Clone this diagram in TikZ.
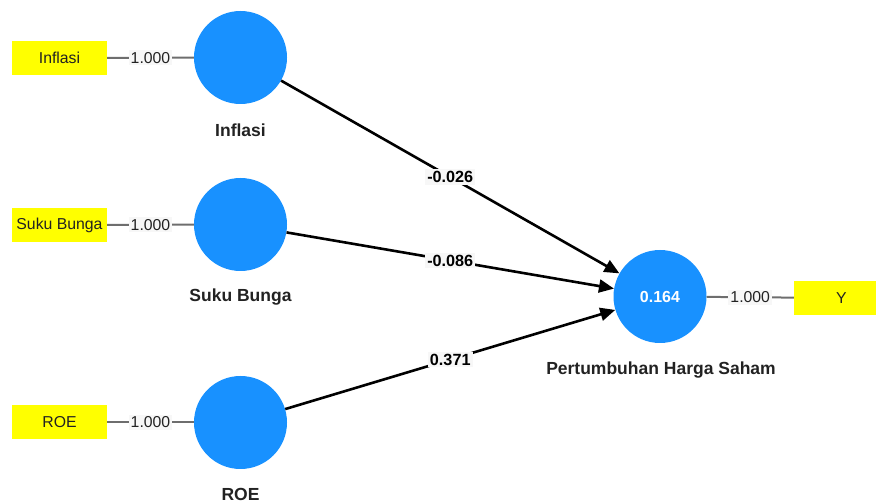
\documentclass[tikz,border=0pt]{standalone}
\usepackage{fontspec}
\setmainfont{Liberation Sans}
\usetikzlibrary{arrows.meta}
\definecolor{lv}{RGB}{24,145,255}
\definecolor{indyel}{RGB}{255,255,0}
\definecolor{lblbg}{RGB}{247,247,247}
\definecolor{loadline}{RGB}{110,110,110}
\definecolor{txt}{RGB}{34,34,34}
\begin{document}
\begin{tikzpicture}[x=1pt,y=-1pt,
  latent/.style={circle, fill=lv, minimum size=93pt, inner sep=0pt},
  indic/.style={rectangle, fill=indyel, minimum width=95pt, minimum height=34pt, inner sep=0pt, text=txt, font=\fontsize{15.8}{18}\selectfont},
  loadlbl/.style={fill=lblbg, inner sep=2pt, text=txt, font=\fontsize{15.8}{18}\selectfont},
  pathlbl/.style={fill=lblbg, inner sep=2pt, text=black, font=\bfseries\fontsize{16.2}{18}\selectfont},
  lname/.style={text=txt, font=\bfseries\fontsize{17.5}{20}\selectfont},
  loadedge/.style={draw=loadline, line width=2pt},
  pathedge/.style={draw=black, line width=2.6pt, -{Triangle[length=15pt,width=13pt]}}
]
\clip (0,0) rectangle (876,502);
\useasboundingbox (0,0) rectangle (876,502);

% indicators
\node[indic] (iInf) at (59.5,58) {Inflasi};
\node[indic] (iSuk) at (59.5,225) {Suku Bunga};
\node[indic] (iRoe) at (59.5,422.5) {ROE};
\node[indic] (iY) at (841.5,298) {Y};

% latent variables
\node[latent] (Inf) at (240.5,57.5) {};
\node[latent] (Suk) at (240.5,224.5) {};
\node[latent] (Roe) at (240.5,422.5) {};
\node[latent, text=white, font=\bfseries\fontsize{16}{19}\selectfont] (Phs) at (660,296.5) {0.164};

% latent names
\node[lname] (nInf) at (240.5,130) {Inflasi};
\node[lname] (nSuk) at (240.5,297) {Suku Bunga};
\node[lname] (nRoe) at (240.5,494) {ROE};
\node[lname] (nPhs) at (661,370) {Pertumbuhan Harga Saham};

% loadings
\draw[loadedge] (iInf) -- node[loadlbl] {1.000} (Inf);
\draw[loadedge] (iSuk) -- node[loadlbl] {1.000} (Suk);
\draw[loadedge] (iRoe) -- node[loadlbl] {1.000} (Roe);
\draw[loadedge] (Phs) -- node[loadlbl] {1.000} (iY);

% structural paths
\draw[pathedge] (Inf) -- node[pathlbl] {-0.026} (Phs);
\draw[pathedge] (Suk) -- node[pathlbl] {-0.086} (Phs);
\draw[pathedge] (Roe) -- node[pathlbl] {0.371} (Phs);
\end{tikzpicture}
\end{document}
